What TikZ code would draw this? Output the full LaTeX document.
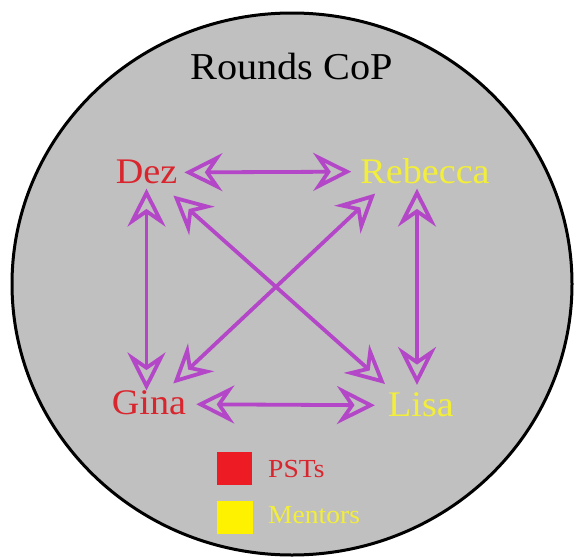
\documentclass[tikz,border=0pt]{standalone}
\usepackage{fontspec}
\setmainfont[FakeStretch=1.06]{Liberation Serif}
\usetikzlibrary{arrows.meta}
\definecolor{bggray}{HTML}{C0C0C0}
\definecolor{arrowpurple}{HTML}{B446C8}
\definecolor{pstred}{HTML}{D9262E}
\definecolor{mentoryellow}{HTML}{F2EE3A}
\definecolor{sqred}{HTML}{ED1C24}
\definecolor{sqyellow}{HTML}{FFF200}
\tikzset{
  persontext/.style={inner sep=0pt, anchor=base, font=\fontsize{36}{40}\selectfont},
  legendtext/.style={inner sep=0pt, anchor=base west, font=\fontsize{26}{30}\selectfont},
  openhead/.tip={Stealth[open, length=38pt, width=38pt, inset=13pt]},
  link/.style={draw=arrowpurple, line width=3.8pt, openhead-openhead},
}
\begin{document}
\begin{tikzpicture}[x=1pt,y=-1pt]
\useasboundingbox (0,0) rectangle (576,557);
\fill[white] (0,0) rectangle (576,557);
\draw[fill=bggray, line width=3pt] (292,284) ellipse [x radius=280, y radius=271];
\node[persontext, font=\fontsize{38}{42}\selectfont] (title) at (291.5,79) {Rounds CoP};
\node[persontext, text=pstred] (dez) at (146.5,183) {Dez};
\node[persontext, text=mentoryellow] (rebecca) at (425,183) {Rebecca};
\node[persontext, text=pstred] (gina) at (149,414) {Gina};
\node[persontext, text=mentoryellow] (lisa) at (421,416) {Lisa};
\node[fill=sqred, minimum width=35pt, minimum height=33pt, inner sep=0pt] (redsq) at (234.5,468.5) {};
\node[fill=sqyellow, minimum width=36pt, minimum height=33pt, inner sep=0pt] (yelsq) at (235,517.5) {};
\node[legendtext, text=pstred] (psts) at (268,477) {PSTs};
\node[legendtext, text=mentoryellow] (mentors) at (268,523) {Mentors};
\draw[link] ([shift={(7,1)}]dez.east) -- ([shift={(-9,1)}]rebecca.west);
\draw[link] ([shift={(10,2)}]gina.east) -- ([shift={(-13,1)}]lisa.west);
\draw[link] ([shift={(0,5)}]dez.south) -- ([shift={(-2.5,0.5)}]gina.north);
\draw[link] ([shift={(-8,5)}]rebecca.south) -- ([shift={(-4,-7)}]lisa.north);
\draw[link] ([shift={(-4,12)}]dez.south east) -- ([shift={(-3,-8)}]lisa.north west);
\draw[link] ([shift={(15,10)}]rebecca.south west) -- ([shift={(-13,-6.5)}]gina.north east);
\end{tikzpicture}
\end{document}
